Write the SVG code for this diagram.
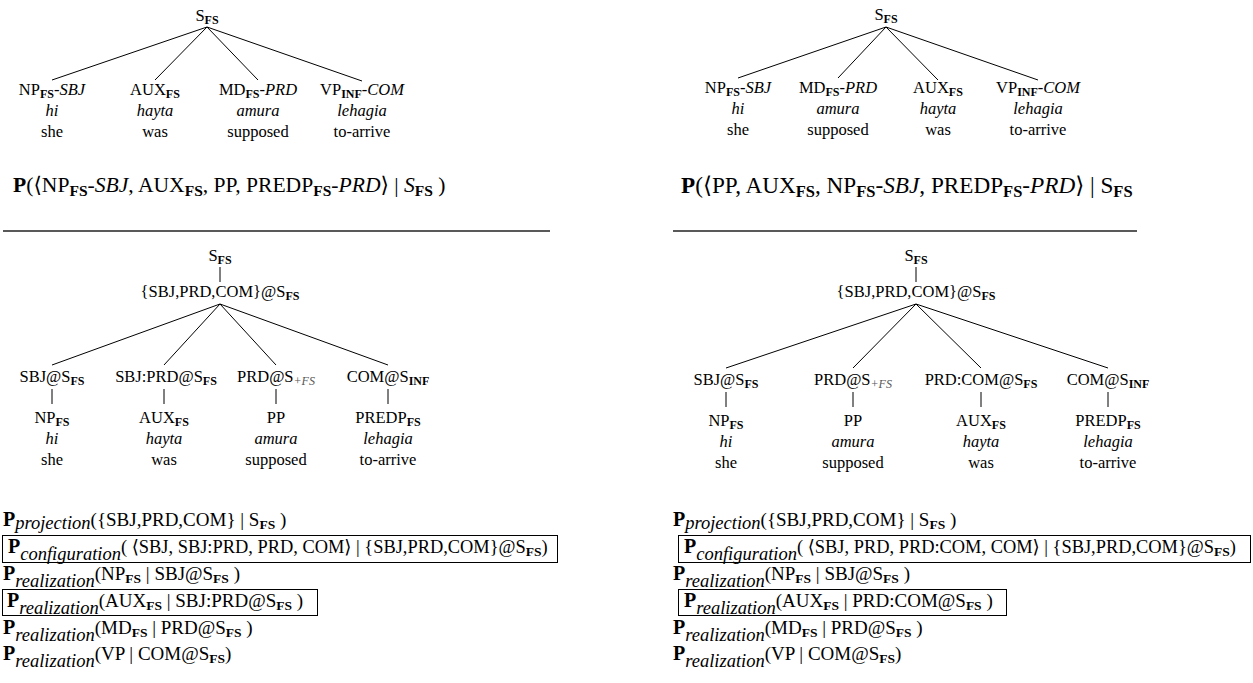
<svg xmlns="http://www.w3.org/2000/svg" width="1253" height="683" viewBox="0 0 1253 683" font-family="'Liberation Serif', 'Times New Roman', 'DejaVu Serif', serif">
<style>
text{font-family:'Liberation Serif','Times New Roman','DejaVu Serif',serif;font-size:16.5px;fill:#000}
.m{text-anchor:middle}
.i{font-style:italic}
.sb{font-weight:bold;font-size:12px}
.pl{font-style:italic;font-size:12px;fill:#555}
.f{font-size:21.6px}
.f2{font-size:23.2px}
.fb{font-weight:bold;font-size:15.5px}
.fb2{font-weight:bold;font-size:16.5px}
.bp{font-weight:bold;font-size:20px}
.r{font-size:19px}
.rc{font-size:18.4px}
.si{font-style:italic;font-size:18.5px}
.rb{font-weight:bold;font-size:13.5px}
.e{stroke:#000;stroke-width:1;fill:none}
.hr{stroke:#222;stroke-width:1.3}
.box{fill:none;stroke:#000;stroke-width:1}
</style>
<rect width="1253" height="683" fill="#fff"/>

<g id="connectors">
  <line class="e" x1="207" y1="27" x2="52" y2="80"/>
  <line class="e" x1="207" y1="27" x2="155" y2="80"/>
  <line class="e" x1="207" y1="27" x2="258" y2="80"/>
  <line class="e" x1="207" y1="27" x2="362" y2="81"/>
  <line class="e" x1="886" y1="27" x2="738" y2="78"/>
  <line class="e" x1="886" y1="27" x2="838" y2="78"/>
  <line class="e" x1="886" y1="27" x2="938" y2="80"/>
  <line class="e" x1="886" y1="27" x2="1038" y2="80"/>
  <line class="e" x1="220" y1="267" x2="220" y2="282"/>
  <line class="e" x1="220" y1="304" x2="52" y2="365"/>
  <line class="e" x1="220" y1="304" x2="164" y2="365"/>
  <line class="e" x1="220" y1="304" x2="276" y2="365"/>
  <line class="e" x1="220" y1="304" x2="388" y2="365"/>
  <line class="e" x1="52" y1="389" x2="52" y2="404"/>
  <line class="e" x1="164" y1="389" x2="164" y2="404"/>
  <line class="e" x1="276" y1="389" x2="276" y2="404"/>
  <line class="e" x1="388" y1="389" x2="388" y2="404"/>
  <line class="e" x1="916" y1="267" x2="916" y2="282"/>
  <line class="e" x1="916" y1="304" x2="726" y2="368"/>
  <line class="e" x1="916" y1="304" x2="853" y2="368"/>
  <line class="e" x1="916" y1="304" x2="981" y2="368"/>
  <line class="e" x1="916" y1="304" x2="1108" y2="368"/>
  <line class="e" x1="726" y1="392" x2="726" y2="407"/>
  <line class="e" x1="853" y1="392" x2="853" y2="407"/>
  <line class="e" x1="981" y1="392" x2="981" y2="407"/>
  <line class="e" x1="1108" y1="392" x2="1108" y2="407"/>
</g>

<g id="separators">
  <line class="hr" x1="3" y1="231" x2="550" y2="231"/>
  <line class="hr" x1="673" y1="231" x2="1137" y2="231"/>
</g>

<g id="tl-root"><text class="m" x="207" y="21">S<tspan class="sb" dy="3">FS</tspan></text></g>
<g id="tl-np">
  <text class="m" x="52" y="95">NP<tspan class="sb" dy="3">FS</tspan><tspan dy="-3">-</tspan><tspan class="i">SBJ</tspan></text>
  <text class="m i" x="52" y="116">hi</text>
  <text class="m" x="52" y="137">she</text>
</g>
<g id="tl-aux">
  <text class="m" x="155" y="95">AUX<tspan class="sb" dy="3">FS</tspan></text>
  <text class="m i" x="155" y="116">hayta</text>
  <text class="m" x="155" y="137">was</text>
</g>
<g id="tl-md">
  <text class="m" x="258" y="95">MD<tspan class="sb" dy="3">FS</tspan><tspan dy="-3">-</tspan><tspan class="i">PRD</tspan></text>
  <text class="m i" x="258" y="116">amura</text>
  <text class="m" x="258" y="137">supposed</text>
</g>
<g id="tl-vp">
  <text class="m" x="362" y="95">VP<tspan class="sb" dy="3">INF</tspan><tspan dy="-3">-</tspan><tspan class="i">COM</tspan></text>
  <text class="m i" x="362" y="116">lehagia</text>
  <text class="m" x="362" y="137">to-arrive</text>
</g>
<g id="tl-formula">
  <text class="f" x="13" y="192"><tspan font-weight="bold">P</tspan>(⟨NP<tspan class="fb" dy="4">FS</tspan><tspan dy="-4">-</tspan><tspan class="i">SBJ</tspan>, AUX<tspan class="fb" dy="4">FS</tspan><tspan dy="-4">, PP, PREDP</tspan><tspan class="fb" dy="4">FS</tspan><tspan dy="-4">-</tspan><tspan class="i">PRD</tspan>⟩ | <tspan class="i">S</tspan><tspan class="fb" dy="4">FS</tspan><tspan dy="-4"> )</tspan></text>
</g>

<g id="tr-root"><text class="m" x="886" y="20">S<tspan class="sb" dy="3">FS</tspan></text></g>
<g id="tr-np">
  <text class="m" x="738" y="93">NP<tspan class="sb" dy="3">FS</tspan><tspan dy="-3">-</tspan><tspan class="i">SBJ</tspan></text>
  <text class="m i" x="738" y="114">hi</text>
  <text class="m" x="738" y="135">she</text>
</g>
<g id="tr-md">
  <text class="m" x="838" y="93">MD<tspan class="sb" dy="3">FS</tspan><tspan dy="-3">-</tspan><tspan class="i">PRD</tspan></text>
  <text class="m i" x="838" y="114">amura</text>
  <text class="m" x="838" y="135">supposed</text>
</g>
<g id="tr-aux">
  <text class="m" x="938" y="93">AUX<tspan class="sb" dy="3">FS</tspan></text>
  <text class="m i" x="938" y="114">hayta</text>
  <text class="m" x="938" y="135">was</text>
</g>
<g id="tr-vp">
  <text class="m" x="1038" y="93">VP<tspan class="sb" dy="3">INF</tspan><tspan dy="-3">-</tspan><tspan class="i">COM</tspan></text>
  <text class="m i" x="1038" y="114">lehagia</text>
  <text class="m" x="1038" y="135">to-arrive</text>
</g>
<g id="tr-formula">
  <text class="f2" x="681" y="193"><tspan font-weight="bold">P</tspan>(⟨PP, AUX<tspan class="fb2" dy="4">FS</tspan><tspan dy="-4">, NP</tspan><tspan class="fb2" dy="4">FS</tspan><tspan dy="-4">-</tspan><tspan class="i">SBJ</tspan>, PREDP<tspan class="fb2" dy="4">FS</tspan><tspan dy="-4">-</tspan><tspan class="i">PRD</tspan>⟩ | S<tspan class="fb2" dy="4">FS</tspan></text>
</g>

<g id="bl-root"><text class="m" x="220" y="261">S<tspan class="sb" dy="3">FS</tspan></text></g>
<g id="bl-proj"><text class="m" x="220" y="297">{SBJ,PRD,COM}@S<tspan class="sb" dy="3">FS</tspan></text></g>
<g id="bl-sbj">
  <text class="m" x="52" y="382">SBJ@S<tspan class="sb" dy="3">FS</tspan></text>
  <text class="m" x="52" y="423">NP<tspan class="sb" dy="3">FS</tspan></text>
  <text class="m i" x="52" y="444">hi</text>
  <text class="m" x="52" y="465">she</text>
</g>
<g id="bl-sbjprd">
  <text class="m" x="166" y="382">SBJ:PRD@S<tspan class="sb" dy="3">FS</tspan></text>
  <text class="m" x="164" y="423">AUX<tspan class="sb" dy="3">FS</tspan></text>
  <text class="m i" x="164" y="444">hayta</text>
  <text class="m" x="164" y="465">was</text>
</g>
<g id="bl-prd">
  <text class="m" x="276" y="382">PRD@S<tspan class="pl" dy="3">+FS</tspan></text>
  <text class="m" x="276" y="423">PP</text>
  <text class="m i" x="276" y="444">amura</text>
  <text class="m" x="276" y="465">supposed</text>
</g>
<g id="bl-com">
  <text class="m" x="388" y="382">COM@S<tspan class="sb" dy="3">INF</tspan></text>
  <text class="m" x="388" y="423">PREDP<tspan class="sb" dy="3">FS</tspan></text>
  <text class="m i" x="388" y="444">lehagia</text>
  <text class="m" x="388" y="465">to-arrive</text>
</g>

<g id="br-root"><text class="m" x="916" y="261">S<tspan class="sb" dy="3">FS</tspan></text></g>
<g id="br-proj"><text class="m" x="916" y="297">{SBJ,PRD,COM}@S<tspan class="sb" dy="3">FS</tspan></text></g>
<g id="br-sbj">
  <text class="m" x="726" y="385">SBJ@S<tspan class="sb" dy="3">FS</tspan></text>
  <text class="m" x="726" y="426">NP<tspan class="sb" dy="3">FS</tspan></text>
  <text class="m i" x="726" y="447">hi</text>
  <text class="m" x="726" y="468">she</text>
</g>
<g id="br-prd">
  <text class="m" x="853" y="385">PRD@S<tspan class="pl" dy="3">+FS</tspan></text>
  <text class="m" x="853" y="426">PP</text>
  <text class="m i" x="853" y="447">amura</text>
  <text class="m" x="853" y="468">supposed</text>
</g>
<g id="br-prdcom">
  <text class="m" x="981" y="385">PRD:COM@S<tspan class="sb" dy="3">FS</tspan></text>
  <text class="m" x="981" y="426">AUX<tspan class="sb" dy="3">FS</tspan></text>
  <text class="m i" x="981" y="447">hayta</text>
  <text class="m" x="981" y="468">was</text>
</g>
<g id="br-com">
  <text class="m" x="1108" y="385">COM@S<tspan class="sb" dy="3">INF</tspan></text>
  <text class="m" x="1108" y="426">PREDP<tspan class="sb" dy="3">FS</tspan></text>
  <text class="m i" x="1108" y="447">lehagia</text>
  <text class="m" x="1108" y="468">to-arrive</text>
</g>

<g id="probs-left">
  <text class="r" x="3" y="526"><tspan class="bp">P</tspan><tspan class="si" dy="3">projection</tspan><tspan dy="-3">({SBJ,PRD,COM} | S</tspan><tspan class="rb" dy="3">FS</tspan><tspan dy="-3"> )</tspan></text>
  <rect class="box" x="2.5" y="535.5" width="555" height="27"/>
  <text class="rc" x="8" y="553"><tspan class="bp">P</tspan><tspan class="si" dy="7">configuration</tspan><tspan dy="-7">( ⟨SBJ, SBJ:PRD, PRD, COM⟩ | {SBJ,PRD,COM}@S</tspan><tspan class="rb" dy="3">FS</tspan><tspan dy="-3">)</tspan></text>
  <text class="r" x="3" y="580"><tspan class="bp">P</tspan><tspan class="si" dy="7">realization</tspan><tspan dy="-7">(NP</tspan><tspan class="rb" dy="3">FS</tspan><tspan dy="-3"> | SBJ@S</tspan><tspan class="rb" dy="3">FS</tspan><tspan dy="-3"> )</tspan></text>
  <rect class="box" x="2.5" y="589.5" width="315" height="26"/>
  <text class="r" x="7" y="607"><tspan class="bp">P</tspan><tspan class="si" dy="7">realization</tspan><tspan dy="-7">(AUX</tspan><tspan class="rb" dy="3">FS</tspan><tspan dy="-3"> | SBJ:PRD@S</tspan><tspan class="rb" dy="3">FS</tspan><tspan dy="-3"> )</tspan></text>
  <text class="r" x="3" y="634"><tspan class="bp">P</tspan><tspan class="si" dy="7">realization</tspan><tspan dy="-7">(MD</tspan><tspan class="rb" dy="3">FS</tspan><tspan dy="-3"> | PRD@S</tspan><tspan class="rb" dy="3">FS</tspan><tspan dy="-3"> )</tspan></text>
  <text class="r" x="3" y="660"><tspan class="bp">P</tspan><tspan class="si" dy="7">realization</tspan><tspan dy="-7">(VP | COM@S</tspan><tspan class="rb" dy="3">FS</tspan><tspan dy="-3">)</tspan></text>
</g>
<g id="probs-right">
  <text class="r" x="673" y="526"><tspan class="bp">P</tspan><tspan class="si" dy="3">projection</tspan><tspan dy="-3">({SBJ,PRD,COM} | S</tspan><tspan class="rb" dy="3">FS</tspan><tspan dy="-3"> )</tspan></text>
  <rect class="box" x="678.5" y="535.5" width="572" height="27"/>
  <text class="rc" x="684" y="553"><tspan class="bp">P</tspan><tspan class="si" dy="7">configuration</tspan><tspan dy="-7">( ⟨SBJ, PRD, PRD:COM, COM⟩ | {SBJ,PRD,COM}@S</tspan><tspan class="rb" dy="3">FS</tspan><tspan dy="-3">)</tspan></text>
  <text class="r" x="673" y="580"><tspan class="bp">P</tspan><tspan class="si" dy="7">realization</tspan><tspan dy="-7">(NP</tspan><tspan class="rb" dy="3">FS</tspan><tspan dy="-3"> | SBJ@S</tspan><tspan class="rb" dy="3">FS</tspan><tspan dy="-3"> )</tspan></text>
  <rect class="box" x="678.5" y="589.5" width="328" height="26"/>
  <text class="r" x="684" y="607"><tspan class="bp">P</tspan><tspan class="si" dy="7">realization</tspan><tspan dy="-7">(AUX</tspan><tspan class="rb" dy="3">FS</tspan><tspan dy="-3"> | PRD:COM@S</tspan><tspan class="rb" dy="3">FS</tspan><tspan dy="-3"> )</tspan></text>
  <text class="r" x="673" y="634"><tspan class="bp">P</tspan><tspan class="si" dy="7">realization</tspan><tspan dy="-7">(MD</tspan><tspan class="rb" dy="3">FS</tspan><tspan dy="-3"> | PRD@S</tspan><tspan class="rb" dy="3">FS</tspan><tspan dy="-3"> )</tspan></text>
  <text class="r" x="673" y="660"><tspan class="bp">P</tspan><tspan class="si" dy="7">realization</tspan><tspan dy="-7">(VP | COM@S</tspan><tspan class="rb" dy="3">FS</tspan><tspan dy="-3">)</tspan></text>
</g>
</svg>
